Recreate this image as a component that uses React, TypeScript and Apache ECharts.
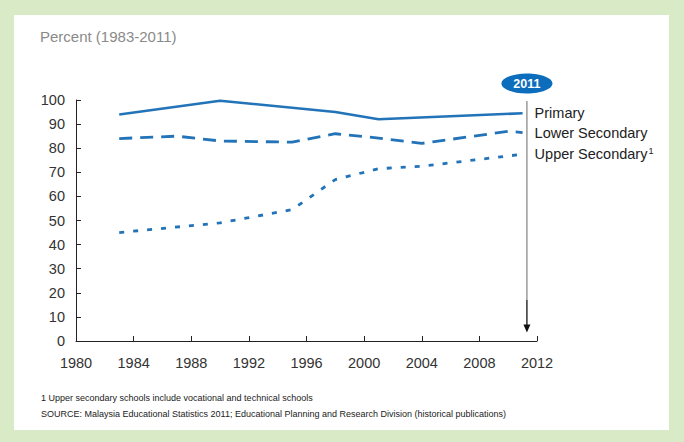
import React, { useEffect, useRef } from "react";
import * as echarts from "echarts";

const titleText = "Percent (1983-2011)";
const footnote = "1 Upper secondary schools include vocational and technical schools";
const sourceText =
  "SOURCE: Malaysia Educational Statistics 2011; Educational Planning and Research Division (historical publications)";

const primaryYears = [1983, 1990, 1998, 2001, 2011];
const primaryValues = [94, 99.7, 95, 92, 94.5];

const lowerYears = [1983, 1987, 1990, 1995, 1998, 2001, 2004, 2010, 2011];
const lowerValues = [84, 85, 83, 82.5, 86, 84.2, 82, 87, 86.5];

const upperYears = [1983, 1990, 1995, 1998, 2001, 2004, 2011];
const upperValues = [45, 49, 54.5, 67, 71.5, 72.5, 77.5];

const markerYear = 2011.3;
const markerLabel = "2011";
const markerTop = 100;
const markerSplit = 17;
const markerTip = 3.5;

const LINE = "#2373b8";
const FONT = "'Liberation Sans', Arial, sans-serif";

function pairs(xs: number[], ys: number[]) {
  return xs.map((x, i) => [x, ys[i]]);
}

export default function App() {
  const ref = useRef<HTMLDivElement>(null);
  useEffect(() => {
    if (!ref.current) return;
    const chart = echarts.init(ref.current, undefined, { renderer: "svg" });
    const endLabel = (name: string, rich = false) => ({
      show: true,
      distance: 12,
      formatter: rich ? "{a|" + name + "}{s|1}" : name,
      color: "#222",
      fontSize: 14.5,
      fontFamily: FONT,
      rich: rich
        ? {
            a: { fontSize: 14.5, fontFamily: FONT, color: "#222" },
            s: { fontSize: 9, fontFamily: FONT, color: "#222", verticalAlign: "top", padding: [0, 0, 6, 1] },
          }
        : undefined,
    });
    const baseGraphic = [
      { type: "rect", shape: { x: 14, y: 15, width: 655, height: 415 }, style: { fill: "#ffffff" }, z: -10 },
      { type: "text", left: 40, top: 29, style: { text: titleText, fill: "#8a8a8a", fontSize: 15, fontFamily: FONT } },
      { type: "text", left: 41, top: 393, style: { text: footnote, fill: "#222", fontSize: 9, fontFamily: FONT } },
      { type: "text", left: 41, top: 409, style: { text: sourceText, fill: "#222", fontSize: 9, fontFamily: FONT } },
    ];
    chart.setOption({
      animation: false,
      backgroundColor: "#d9eac6",
      textStyle: { fontFamily: FONT },
      grid: { left: 76, top: 100, width: 461, height: 241, containLabel: false },
      xAxis: {
        type: "value",
        min: 1980,
        max: 2012,
        interval: 4,
        axisLine: { lineStyle: { color: "#222", width: 1 } },
        axisTick: { inside: true, length: 5, lineStyle: { color: "#222" } },
        axisLabel: { color: "#333", fontSize: 14.5, margin: 14, fontFamily: FONT, formatter: (v: number) => String(v) },
        splitLine: { show: false },
      },
      yAxis: {
        type: "value",
        min: 0,
        max: 100,
        interval: 10,
        axisLine: { show: true, lineStyle: { color: "#222", width: 1 } },
        axisTick: { show: true, inside: true, length: 5, lineStyle: { color: "#222" } },
        axisLabel: { color: "#333", fontSize: 14.5, margin: 11, fontFamily: FONT },
        splitLine: { show: false },
      },
      graphic: baseGraphic,
      series: [
        {
          name: "Primary",
          type: "line",
          data: pairs(primaryYears, primaryValues),
          showSymbol: false,
          symbol: "none",
          lineStyle: { color: LINE, width: 2.6 },
          endLabel: endLabel("Primary"),
        },
        {
          name: "Lower Secondary",
          type: "line",
          data: pairs(lowerYears, lowerValues),
          showSymbol: false,
          symbol: "none",
          lineStyle: { color: LINE, width: 2.8, type: [13, 8] },
          endLabel: endLabel("Lower Secondary"),
        },
        {
          name: "Upper Secondary",
          type: "line",
          data: pairs(upperYears, upperValues),
          showSymbol: false,
          symbol: "none",
          lineStyle: { color: LINE, width: 2.8, type: [5, 9] },
          endLabel: endLabel("Upper Secondary", true),
        },
      ],
    });
    const conv = (v: number) =>
      chart.convertToPixel({ xAxisIndex: 0, yAxisIndex: 0 }, [markerYear, v]) as number[];
    const pTop = conv(markerTop);
    const pSplit = conv(markerSplit);
    const pTip = conv(markerTip);
    chart.setOption({
      graphic: [
        ...baseGraphic,
        {
          type: "line",
          shape: { x1: pTop[0], y1: pTop[1] + 1, x2: pSplit[0], y2: pSplit[1] },
          style: { stroke: "#8a8a8a", lineWidth: 1.3 },
          z: 9,
        },
        {
          type: "line",
          shape: { x1: pSplit[0], y1: pSplit[1], x2: pTip[0], y2: pTip[1] - 6 },
          style: { stroke: "#111", lineWidth: 1.3 },
          z: 9,
        },
        {
          type: "polygon",
          shape: {
            points: [
              [pTip[0] - 3.5, pTip[1] - 8],
              [pTip[0] + 3.5, pTip[1] - 8],
              [pTip[0], pTip[1]],
            ],
          },
          style: { fill: "#111" },
          z: 9,
        },
        {
          type: "ellipse",
          shape: { cx: pTop[0], cy: pTop[1] - 16.5, rx: 25.5, ry: 10 },
          style: { fill: "#0c6dbd" },
          z: 10,
        },
        {
          type: "text",
          x: pTop[0],
          y: pTop[1] - 16.5,
          style: {
            text: markerLabel,
            fill: "#ffffff",
            fontSize: 12.5,
            fontWeight: "bold",
            fontFamily: FONT,
            align: "center",
            verticalAlign: "middle",
          },
          z: 11,
        },
      ],
    });
    return () => chart.dispose();
  }, []);
  return (
    <div
      ref={ref}
      style={{ position: "fixed", left: 0, top: 0, width: 684, height: 442 }}
    />
  );
}
